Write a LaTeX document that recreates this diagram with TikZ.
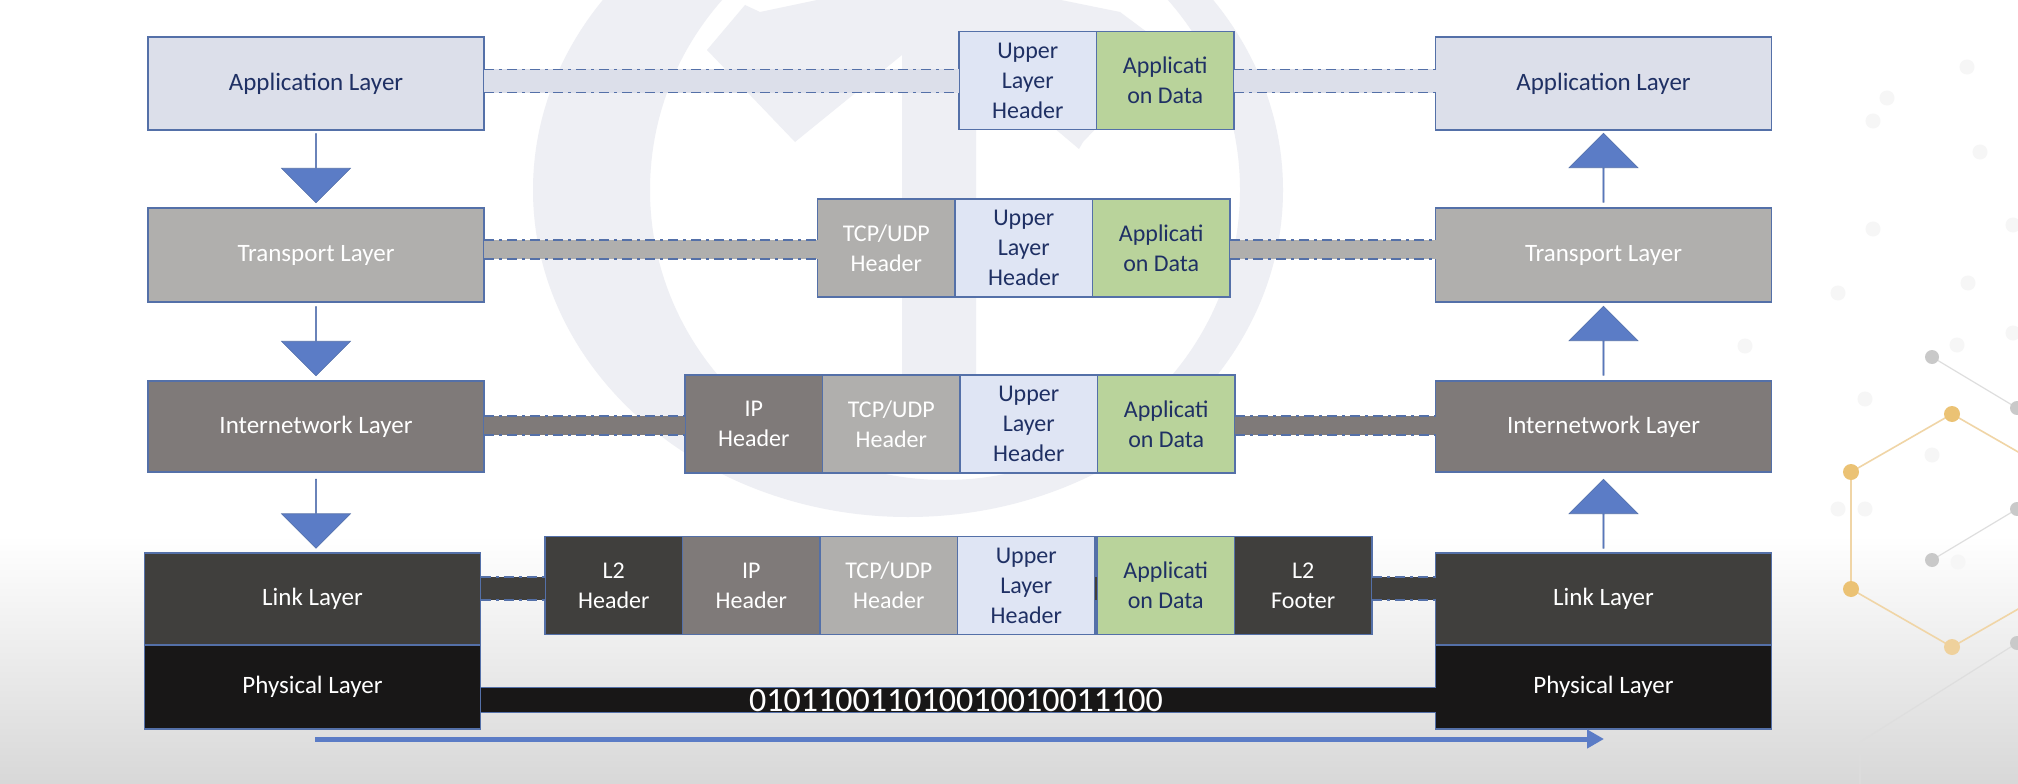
\documentclass[tikz,border=0pt]{standalone}
\usepackage{fontspec}
\setmainfont{Carlito}
\usetikzlibrary{positioning,arrows.meta,shapes.arrows}

\definecolor{edgeblue}{HTML}{5470A8}
\definecolor{arrowblue}{HTML}{5B7CC6}
\definecolor{navytext}{HTML}{1F3064}
\definecolor{appfill}{HTML}{DCDFEA}
\definecolor{upperfill}{HTML}{DFE5F4}
\definecolor{datafill}{HTML}{B9D39B}
\definecolor{trfill}{HTML}{B0AFAD}
\definecolor{infill}{HTML}{7F7A79}
\definecolor{linkfill}{HTML}{403F3D}
\definecolor{phyfill}{HTML}{181717}
\definecolor{wmark}{HTML}{EEEFF4}
\definecolor{goldline}{HTML}{F0D5A6}
\definecolor{golddot}{HTML}{EBC274}
\definecolor{grayline}{HTML}{DEDEDE}
\definecolor{graydot}{HTML}{C9C9C9}
\definecolor{faintdot}{HTML}{F6F6F6}

\tikzset{
  layerbox/.style={draw=edgeblue,line width=1.4pt,inner sep=0pt,outer sep=0pt,
    minimum width=336pt,font=\fontsize{25}{30}\selectfont},
  hdrbox/.style={draw=edgeblue,line width=1.4pt,inner sep=0pt,outer sep=0pt,
    minimum width=137.5pt,minimum height=98pt,align=center,
    font=\fontsize{24}{30}\selectfont},
  upperbox/.style={hdrbox,fill=upperfill,text=navytext},
  databox/.style={hdrbox,fill=datafill,text=navytext},
  blockarrow/.style={single arrow,draw=edgeblue,fill=arrowblue,line width=0.6pt,
    inner sep=0pt,minimum width=69pt,minimum height=69pt,
    single arrow head extend=17.5pt,single arrow head indent=0pt,
    single arrow tip angle=90},
  dashdot/.style={draw=edgeblue,line width=1.4pt,dash pattern=on 10pt off 5pt on 3pt off 5pt},
}

\begin{document}
\begin{tikzpicture}[x=1pt,y=-1pt]
  \useasboundingbox (0,0) rectangle (2018,784);
  \begin{scope}
    \clip (0,0) rectangle (2018,784);
    \fill[white] (0,0) rectangle (2018,784);
    \shade[top color=white,bottom color=black!21!white] (0,535) rectangle (2018,875);

    % Watermark behind the layers.
    \fill[wmark,even odd rule] (908,190) ellipse (375 and 327) (945,190) ellipse (295 and 290);
    \fill[wmark] (795,142)--(707,50)--(745,5)--(760,12)--(817,0)--(1061,0)--(1120,12)
      --(1171,50)--(1083,142)--(1079,149)--(976,62)--(976,380)--(902,380)--(902,55)--cycle;

    % Hexagons at the right edge.
    \foreach \xx/\yy in {1887/98,1873/121,1967/67,1980/152,1873/229,2013/225,1968/283,
      1838/293,2013/333,1957/345,1745/346,1865/399,1932/455,1838/509,1865/509,1958/562}{
      \fill[faintdot] (\xx,\yy) circle (7.5);
    }
    \draw[grayline,line width=1.2pt] (1932,357)--(2017,408);
    \draw[grayline,line width=1.2pt] (1932,560)--(2017,509);
    \draw[grayline,line width=1.2pt] (2017,643)--(1860,742)--(1860,784);
    \draw[goldline,line width=1.6pt] (2053,472)--(1952,414)--(1851,472)--(1851,589)--(1952,647)--(2053,589);
    \foreach \xx/\yy in {1932/357,2017/408,2017/509,1932/560,2017/643}{
      \fill[graydot] (\xx,\yy) circle (7);
    }
    \foreach \xx/\yy in {1952/414,1851/472,1851/589}{
      \fill[golddot] (\xx,\yy) circle (8);
    }
    \fill[goldline!80!golddot] (1952,647) circle (8);
  \end{scope}

  % Layers on the sending side.
  \node[layerbox,fill=appfill,text=navytext,minimum height=93pt] (appL) at (316,83.5) {Application Layer};
  \node[layerbox,fill=trfill,text=white,minimum height=94pt] (trL) at (316,255) {Transport Layer};
  \node[layerbox,fill=infill,text=white,minimum height=91pt] (inL) at (316,426.5) {Internetwork Layer};
  \node[layerbox,fill=linkfill,text=white,minimum height=92pt] (linkL) at (312.5,599) {Link Layer};
  \node[layerbox,fill=phyfill,text=white,minimum height=84pt] (phyL) at (312.5,687) {Physical Layer};

  % Layers on the receiving side.
  \node[layerbox,fill=appfill,text=navytext,minimum height=93pt] (appR) at (1603.5,83.5) {Application Layer};
  \node[layerbox,fill=trfill,text=white,minimum height=94pt] (trR) at (1603.5,255) {Transport Layer};
  \node[layerbox,fill=infill,text=white,minimum height=91pt] (inR) at (1603.5,426.5) {Internetwork Layer};
  \node[layerbox,fill=linkfill,text=white,minimum height=92pt] (linkR) at (1603.5,599) {Link Layer};
  \node[layerbox,fill=phyfill,text=white,minimum height=84pt] (phyR) at (1603.5,687) {Physical Layer};

  % Block arrows between the layers.
  \node[blockarrow,rotate=-90] (dnA) at (316,168) {};
  \node[blockarrow,rotate=-90] (dnB) at (316,341) {};
  \node[blockarrow,rotate=-90] (dnC) at (316,513.5) {};
  \node[blockarrow,rotate=90] (upA) at (1603.5,168) {};
  \node[blockarrow,rotate=90] (upB) at (1603.5,341) {};
  \node[blockarrow,rotate=90] (upC) at (1603.5,514) {};

  % Headers added on each row.
  \node[upperbox,anchor=west] (upA1) at (959,80.5) {Upper\\Layer\\Header};
  \node[databox,right=0pt of upA1] (dataA) {Applicati\\on Data};

  \node[hdrbox,fill=trfill,text=white,anchor=west] (tcpB) at (817.5,248) {TCP/UDP\\Header};
  \node[upperbox,right=0pt of tcpB] (upB1) {Upper\\Layer\\Header};
  \node[databox,right=0pt of upB1] (dataB) {Applicati\\on Data};

  \node[hdrbox,fill=infill,text=white,anchor=west] (ipC) at (685,424) {IP\\Header};
  \node[hdrbox,fill=trfill,text=white,right=0pt of ipC] (tcpC) {TCP/UDP\\Header};
  \node[upperbox,right=0pt of tcpC] (upC1) {Upper\\Layer\\Header};
  \node[databox,right=0pt of upC1] (dataC) {Applicati\\on Data};

  \node[hdrbox,fill=linkfill,text=white,anchor=west] (l2D) at (545,585.5) {L2\\Header};
  \node[hdrbox,fill=infill,text=white,right=0pt of l2D] (ipD) {IP\\Header};
  \node[hdrbox,fill=trfill,text=white,right=0pt of ipD] (tcpD) {TCP/UDP\\Header};
  \node[upperbox,right=0pt of tcpD] (upD1) {Upper\\Layer\\Header};
  \node[databox,right=2pt of upD1] (dataD) {Applicati\\on Data};
  \node[hdrbox,fill=linkfill,text=white,right=0pt of dataD] (ftD) {L2\\Footer};

  % Bands from the layers to the header rows.
  \foreach \from/\first/\last/\to/\col/\half/\off in {
    appL/upA1/dataA/appR/appfill/11.5/-0.5,
    trL/tcpB/dataB/trR/trfill/9.5/-1.5,
    inL/ipC/dataC/inR/infill/9.5/-1.5,
    linkL/l2D/ftD/linkR/linkfill/11.5/-3}{
    \coordinate (bandS) at ([yshift=\off pt]\first.west);
    \coordinate (bandE) at ([yshift=\off pt]\last.east);
    \draw[\col,line width=2*\half pt] (\from.east |- bandS)--(bandS);
    \draw[\col,line width=2*\half pt] (bandE)--(\to.west |- bandE);
    \foreach \ss in {-1,1}{
      \draw[dashdot,transform canvas={yshift=\ss*\half pt}] (\from.east |- bandS)--(bandS);
      \draw[dashdot,transform canvas={yshift=\ss*\half pt}] (bandE)--(\to.west |- bandE);
    }
  }
  \coordinate (gapD) at ([yshift=-3pt]upD1.east);
  \draw[linkfill,line width=23pt] (gapD)--(dataD.west |- gapD);

  % The bits on the wire.
  \coordinate (wireL) at (phyL.east |- 0,700);
  \coordinate (wireR) at (phyR.west |- 0,700);
  \draw[edgeblue,double=phyfill,double distance=24pt,line width=1.2pt] (wireL)--(wireR);
  \node[text=white,inner sep=0pt,font=\fontsize{34}{34}\selectfont] (bits) at (956,700.5) {010110011010010010011100};

  % Direction of travel.
  \coordinate (flowS) at (315,739);
  \coordinate (flowE) at (1604,739);
  \draw[arrowblue,line width=5pt,-{Triangle[length=17pt,width=18pt]}] (flowS)--(flowE);
\end{tikzpicture}
\end{document}
